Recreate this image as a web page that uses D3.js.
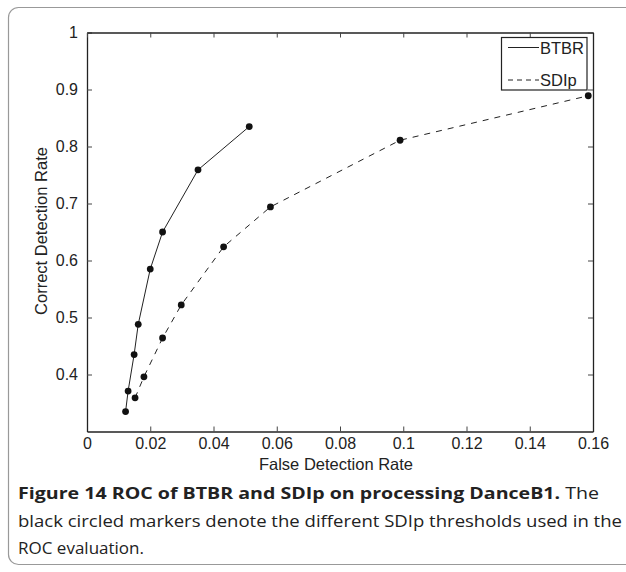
<!DOCTYPE html>
<html>
<head>
<meta charset="utf-8">
<script src="https://cdn.jsdelivr.net/npm/d3@7"></script>
<style>
  body { margin: 0; background: #fff; }
  svg text { fill: #222; }
</style>
</head>
<body>
<div id="chart"></div>
<script>
// Chart data
var btbrFdr = [0.0122, 0.0130, 0.0149, 0.0162, 0.0200, 0.0239, 0.0351, 0.0513];
var btbrCdr = [0.335, 0.371, 0.435, 0.488, 0.585, 0.650, 0.759, 0.835];
var sdipFdr = [0.0152, 0.0180, 0.0239, 0.0298, 0.0432, 0.0580, 0.0990, 0.1585];
var sdipCdr = [0.359, 0.396, 0.464, 0.522, 0.624, 0.694, 0.811, 0.889];
var xTicks = [0, 0.02, 0.04, 0.06, 0.08, 0.1, 0.12, 0.14, 0.16];
var yTicks = [0.4, 0.5, 0.6, 0.7, 0.8, 0.9, 1];
var seriesNames = ["BTBR", "SDIp"];

var width = 626,
    height = 572;

var svg = d3.select("#chart").append("svg")
    .attr("width", width)
    .attr("height", height);

// rounded frame around figure + caption
svg.append("rect")
    .attr("x", 8.5).attr("y", 7.5)
    .attr("width", 640).attr("height", 557)
    .attr("rx", 10)
    .style("fill", "none")
    .style("stroke", "#999")
    .style("stroke-width", 1.2);

var x = d3.scaleLinear().domain([0, 0.16]).range([87, 593]);
var y = d3.scaleLinear().domain([0.3, 1]).range([431.5, 32.5]);

var tickFont = "Liberation Sans, Arial, sans-serif";

// axes, matlab style (ticks inside, box all round)
var xAxis = d3.axisBottom(x).tickValues(xTicks).tickSizeInner(-5).tickSizeOuter(0)
    .tickPadding(6).tickFormat(function(d) { return d3.format("")(+d.toFixed(2)); });
var yAxis = d3.axisLeft(y).tickValues(yTicks).tickSizeInner(-5).tickSizeOuter(0)
    .tickPadding(9).tickFormat(function(d) { return d3.format("")(+d.toFixed(1)); });

svg.append("g").attr("transform", "translate(0,431.5)").call(xAxis);
svg.append("g").attr("transform", "translate(87,0)").call(yAxis);
svg.append("g").attr("transform", "translate(0,32.5)")
    .call(d3.axisTop(x).tickValues(xTicks).tickSizeInner(-5).tickSizeOuter(0).tickFormat(""));
svg.append("g").attr("transform", "translate(593,0)")
    .call(d3.axisRight(y).tickValues(yTicks).tickSizeInner(-5).tickSizeOuter(0).tickFormat(""));

svg.selectAll(".domain").style("stroke", "#222").style("stroke-width", 1.3);
svg.selectAll(".tick line").style("stroke", "#444");
svg.selectAll(".tick text")
    .style("font-family", tickFont)
    .style("font-size", "16px")
    .style("fill", "#222");

// axis titles
svg.append("text")
    .attr("x", 336).attr("y", 470)
    .attr("text-anchor", "middle")
    .style("font-family", tickFont).style("font-size", "16.5px")
    .text("False Detection Rate");

svg.append("text")
    .attr("transform", "translate(47,231) rotate(-90)")
    .attr("text-anchor", "middle")
    .style("font-family", tickFont).style("font-size", "16.5px")
    .text("Correct Detection Rate");

// lines
var line = d3.line()
    .x(function(d) { return x(d[0]); })
    .y(function(d) { return y(d[1]); });

var btbr = d3.zip(btbrFdr, btbrCdr);
var sdip = d3.zip(sdipFdr, sdipCdr);

svg.append("path").datum(btbr)
    .attr("d", line)
    .style("fill", "none").style("stroke", "#222").style("stroke-width", 1);

svg.append("path").datum(sdip)
    .attr("d", line)
    .style("fill", "none").style("stroke", "#222").style("stroke-width", 1)
    .style("stroke-dasharray", "6,6");

// circled markers
svg.selectAll(".dot")
    .data(btbr.concat(sdip))
    .enter().append("circle")
    .attr("class", "dot")
    .attr("cx", function(d) { return x(d[0]); })
    .attr("cy", function(d) { return y(d[1]); })
    .attr("r", 3.4)
    .style("fill", "#111");

// legend
var legend = svg.append("g");
legend.append("rect")
    .attr("x", 501.5).attr("y", 37.5)
    .attr("width", 85.5).attr("height", 52.5)
    .style("fill", "#fff").style("stroke", "#222").style("stroke-width", 1.2);

seriesNames.forEach(function(name, i) {
  var ly = 47.5 + i * 32.5;
  legend.append("line")
    .attr("x1", 508).attr("x2", 539)
    .attr("y1", ly).attr("y2", ly)
    .style("stroke", "#222").style("stroke-width", 1)
    .style("stroke-dasharray", i === 1 ? "5,4" : null);
  legend.append("text")
    .attr("x", 540).attr("y", ly + 6)
    .style("font-family", tickFont).style("font-size", "16.5px")
    .text(name);
});

// caption
var capFont = "Open Sans, Noto Sans, sans-serif";
var cap1 = svg.append("text")
    .attr("x", 18).attr("y", 499)
    .style("font-family", capFont).style("font-size", "16.5px")
    .attr("textLength", 581).attr("lengthAdjust", "spacingAndGlyphs");
cap1.append("tspan").style("font-weight", "bold")
    .text("Figure 14 ROC of BTBR and SDIp on processing DanceB1.");
cap1.append("tspan").text(" The");

svg.append("text")
    .attr("x", 18).attr("y", 527)
    .style("font-family", capFont).style("font-size", "16.5px")
    .attr("textLength", 604).attr("lengthAdjust", "spacingAndGlyphs")
    .text("black circled markers denote the different SDIp thresholds used in the");

svg.append("text")
    .attr("x", 18).attr("y", 554)
    .style("font-family", capFont).style("font-size", "16.5px")
    .attr("textLength", 126).attr("lengthAdjust", "spacingAndGlyphs")
    .text("ROC evaluation.");
</script>
</body>
</html>
